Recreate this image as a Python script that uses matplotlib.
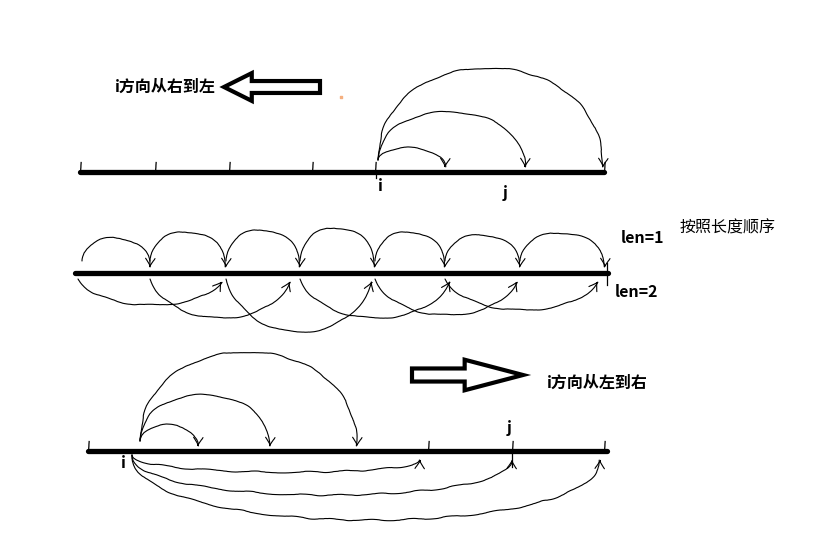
import matplotlib
matplotlib.use('Agg')
import matplotlib.pyplot as plt
from matplotlib.patches import FancyArrowPatch
from matplotlib.path import Path

plt.rcParams['font.family'] = ['Noto Sans CJK SC', 'DejaVu Sans']

W, H = 835, 533

# 上: i 方向从右到左
top_y = 172
top_span = [80, 604]
top_ticks = [80, 155, 229, 312, 375, 604]
top_i = 376
top_arc_end = [445, 525, 603]
top_arc_peak = [148, 112, 68]

# 中: 按照长度顺序
mid_y = 273
mid_span = [75, 608]
len1_from = [82, 150, 226, 300, 375, 445, 520]
len1_to = [150, 226, 300, 375, 445, 520, 605]
len1_peak = [238, 232, 230, 228, 232, 235, 233]
len2_from = [78, 150, 226, 300, 375, 445]
len2_to = [222, 290, 372, 450, 517, 598]
len2_depth = [305, 318, 332, 318, 315, 310]

# 下: i 方向从左到右
bot_y = 451
bot_span = [88, 607]
bot_ticks = [88, 428, 512, 604]
bot_i = 132
bot_up_end = [198, 270, 357]
bot_up_peak = [425, 395, 352]
bot_dn_end = [420, 512, 600]
bot_dn_depth = [472, 495, 520]

INK = 'black'
SKETCH = (0.8, 60, 4)


def arc(ax, x0, y0, x1, y1, peak, lean=0.0):
    # cubic bezier whose midpoint sits at the given peak height
    c = (8 * peak - y0 - y1) / 6.0
    d = (x1 - x0) * lean
    p = Path([(x0, y0), (x0 + d, c), (x1 - d, c), (x1, y1)],
             [Path.MOVETO, Path.CURVE4, Path.CURVE4, Path.CURVE4])
    a = FancyArrowPatch(path=p, arrowstyle='->,head_length=0.5,head_width=0.3',
                        mutation_scale=12, lw=0.8, color=INK)
    a.set_sketch_params(*SKETCH)
    ax.add_patch(a)


def number_line(ax, y, span, ticks, tick_len=10):
    ax.plot(span, [y, y], color=INK, lw=3.8, solid_capstyle='round')
    for t in ticks:
        l, = ax.plot([t, t], [y, y - tick_len], color=INK, lw=0.9)
        l.set_sketch_params(*SKETCH)


def hollow_arrow(ax, tail, tip, y, hl, hw, tw):
    a = FancyArrowPatch(posA=(tail, y), posB=(tip, y), shrinkA=0, shrinkB=0,
                        arrowstyle=f'simple,head_length={hl},head_width={hw},tail_width={tw}',
                        mutation_scale=1, fc='white', ec=INK, lw=3, joinstyle='miter')
    ax.add_patch(a)


fig = plt.figure(figsize=(W / 100, H / 100), dpi=100)
ax = fig.add_axes([0, 0, 1, 1])
ax.set_xlim(0, W)
ax.set_ylim(H, 0)
ax.axis('off')

# ---- 上
hollow_arrow(ax, 320, 224, 87, 20, 20, 8.6)
ax.text(115, 87, 'i方向从右到左', fontsize=11.5, fontweight='bold', va='center', ha='left')
number_line(ax, top_y, top_span, top_ticks)
for e, pk in zip(top_arc_end, top_arc_peak):
    arc(ax, top_i + 2, top_y - 12, e, top_y - 4, pk)
ax.plot([top_i, top_i], [top_y, top_y + 6], color=INK, lw=0.9)
ax.text(380, 186, 'i', fontsize=11.5, fontweight='bold', ha='center', va='center')
ax.text(505, 193, 'j', fontsize=11.5, fontweight='bold', ha='center', va='center')
ax.scatter([341], [97], s=1, color='#f5b080', marker='s')

# ---- 中
ax.plot(mid_span, [mid_y, mid_y], color=INK, lw=3.8, solid_capstyle='round')
ax.plot([607, 607], [mid_y - 10, mid_y + 12], color=INK, lw=0.9)
for a0, a1, pk in zip(len1_from, len1_to, len1_peak):
    arc(ax, a0, mid_y - 12, a1, mid_y - 5, pk)
for a0, a1, dp in zip(len2_from, len2_to, len2_depth):
    arc(ax, a0, mid_y + 6, a1, mid_y + 8, dp, lean=0.15)
ax.text(621, 238, 'len=1', fontsize=11.5, fontweight='bold', ha='left', va='center')
ax.text(615, 292, 'len=2', fontsize=11.5, fontweight='bold', ha='left', va='center')
ax.text(680, 228, '按照长度顺序', fontsize=11.5, fontweight='medium', ha='left', va='center')

# ---- 下
hollow_arrow(ax, 412, 523, 375, 42, 22, 9.4)
ax.text(547, 383, 'i方向从左到右', fontsize=11.5, fontweight='bold', va='center', ha='left')
number_line(ax, bot_y, bot_span, bot_ticks)
ax.plot([512, 512], [bot_y, bot_y + 16], color=INK, lw=0.9)
for e, pk in zip(bot_up_end, bot_up_peak):
    arc(ax, bot_i + 8, bot_y - 10, e, bot_y - 4, pk)
for e, dp in zip(bot_dn_end, bot_dn_depth):
    arc(ax, bot_i, bot_y + 4, e, bot_y + 8, dp)
ax.text(123, 463, 'i', fontsize=11.5, fontweight='bold', ha='center', va='center')
ax.text(509, 428, 'j', fontsize=11.5, fontweight='bold', ha='center', va='center')

fig.savefig('out.png', dpi=100, facecolor='white')
